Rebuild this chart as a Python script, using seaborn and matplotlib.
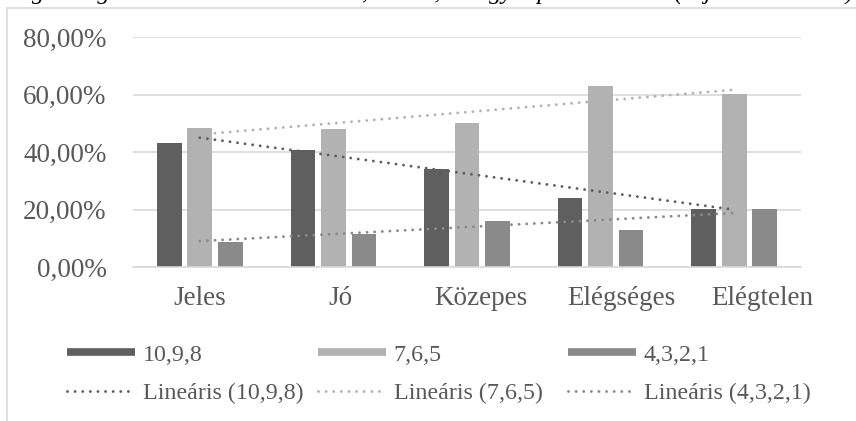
import numpy as np
import pandas as pd
import matplotlib
matplotlib.use("Agg")
import matplotlib.pyplot as plt
from matplotlib.lines import Line2D
from matplotlib.patches import Rectangle
from matplotlib.ticker import FuncFormatter
from matplotlib.transforms import ScaledTranslation
import seaborn as sns

# data
categories = ["Jeles", "Jó", "Közepes", "Elégséges", "Elégtelen"]
series_names = ["10,9,8", "7,6,5", "4,3,2,1"]
high_vals = [0.432, 0.407, 0.341, 0.241, 0.202]
mid_vals = [0.482, 0.480, 0.500, 0.631, 0.601]
low_vals = [0.088, 0.114, 0.161, 0.130, 0.202]
y_ticks = [0.0, 0.2, 0.4, 0.6, 0.8]
caption = "meg. 3 végül az intuitív döntéshozók, akik 3, 2 vagy 1 pontot adtak. (saját szerkesztés)"

colors = ["#5f5f5f", "#b2b2b2", "#8a8a8a"]
text_color = "#595959"
grid_color = "#d9d9d9"

sns.set_theme(style="white")
plt.rcParams["font.family"] = ["Liberation Serif", "DejaVu Serif"]

df = pd.DataFrame({
    "category": categories * 3,
    "series": [s for s in series_names for _ in categories],
    "value": high_vals + mid_vals + low_vals,
})

fig = plt.figure(figsize=(8.56, 4.21), dpi=100)
ax = fig.add_axes([133 / 856, 1 - 267 / 421, 668 / 856, 230 / 421])

sns.barplot(data=df, x="category", y="value", hue="series", hue_order=series_names,
            palette=colors, width=0.685, gap=0.19, linewidth=0, saturation=1,
            legend=False, ax=ax)

# linear trendlines (like Excel)
xs = np.arange(len(categories))
dot_style = (0, (0.01, 2.6))
for vals, c in zip([high_vals, mid_vals, low_vals], colors):
    k, b = np.polyfit(xs, vals, 1)
    ax.plot(xs, k * xs + b, color=c, lw=2.1, linestyle=dot_style,
            dash_capstyle="round", zorder=3)

ax.set_ylim(0, 0.8)
ax.set_xlim(-0.5, len(categories) - 0.5)
ax.set_yticks(y_ticks)
ax.yaxis.set_major_formatter(FuncFormatter(lambda v, p: f"{v * 100:.2f}%".replace(".", ",")))
ax.yaxis.grid(True, color=grid_color, lw=1.2)
ax.set_axisbelow(True)
for s in ["top", "right", "left"]:
    ax.spines[s].set_visible(False)
ax.spines["bottom"].set_color(grid_color)
ax.spines["bottom"].set_linewidth(1.2)
ax.tick_params(axis="both", length=0, labelsize=19.5, labelcolor=text_color)
ax.tick_params(axis="y", pad=19)
ax.tick_params(axis="x", pad=13.5)
ax.set_xlabel("")
ax.set_ylabel("")

# category labels in the reference drift right a little
for i, lab in enumerate(ax.get_xticklabels()):
    lab.set_transform(lab.get_transform() + ScaledTranslation(0.07 * i, 0, fig.dpi_scale_trans))

# legend, three columns placed like Excel
col_x = [67, 318, 568]
for i, (name, c) in enumerate(zip(series_names, colors)):
    handles = [
        Line2D([], [], color=c, lw=5.5, solid_capstyle="butt"),
        Line2D([], [], color=c, lw=2.1, linestyle=dot_style, dash_capstyle="round"),
    ]
    labels = [name, f"Lineáris ({name})"]
    fig.legend(handles, labels, loc="upper left",
               bbox_to_anchor=(col_x[i] / 856, 1 - 344 / 421),
               frameon=False, fontsize=17.3, handlelength=2.85, handletextpad=0.3,
               borderpad=0, borderaxespad=0, labelspacing=0.7, labelcolor=text_color)

# chart border and clipped caption above
fig.patches.append(Rectangle((7 / 856, -0.1), 1.2, 1.1 - 8 / 421, transform=fig.transFigure,
                             fill=False, edgecolor=grid_color, lw=1.2))
fig.text(0.003, 1.0, caption, fontsize=17.8, style="italic", color="black",
         va="baseline", ha="left")

fig.savefig("out.png", dpi=100)
